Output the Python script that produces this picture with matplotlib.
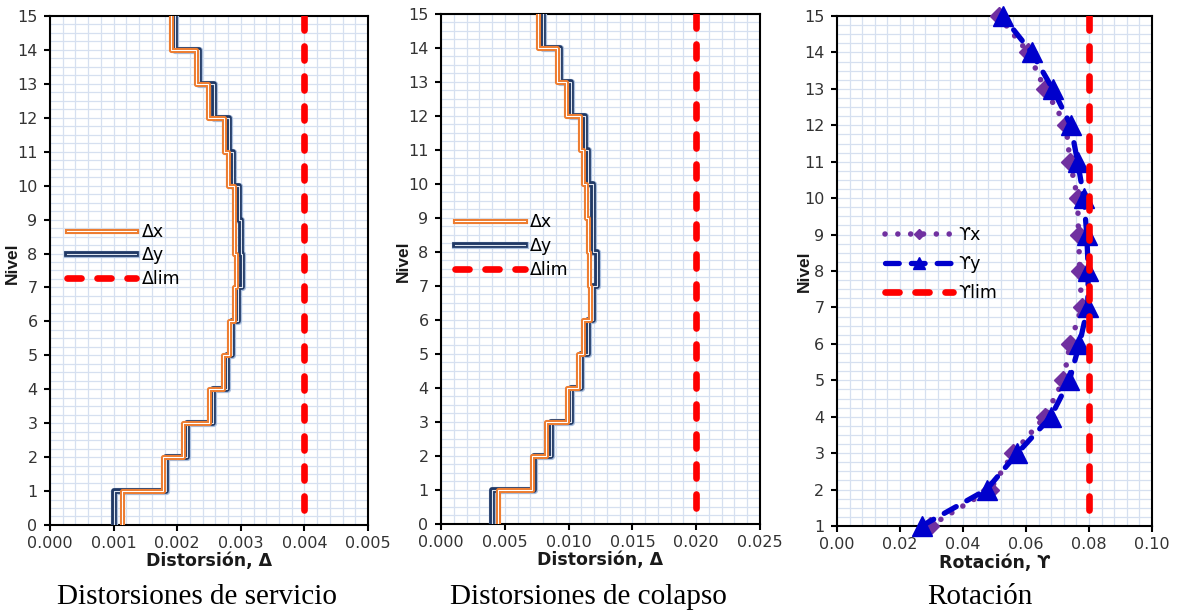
import numpy as np
import matplotlib
matplotlib.use('Agg')
import matplotlib.pyplot as plt
import matplotlib.patheffects as pe
from matplotlib.ticker import MultipleLocator, FormatStrFormatter

# entrepisos 1..15 (niveles 0..15)
niveles = np.arange(0, 16)
niveles_rot = np.arange(1, 16)

# distorsiones de servicio
serv_dx = [0.00113, 0.00178, 0.00209, 0.00250, 0.00272, 0.00281, 0.00290, 0.00292,
           0.00290, 0.00290, 0.00280, 0.00274, 0.00249, 0.00230, 0.00190]
serv_dy = [0.00100, 0.00182, 0.00216, 0.00256, 0.00278, 0.00286, 0.00296, 0.00302,
           0.00300, 0.00297, 0.00288, 0.00281, 0.00258, 0.00234, 0.00197]
lim_serv = 0.004

# distorsiones de colapso
col_dx = [0.0045, 0.0071, 0.0082, 0.0099, 0.0107, 0.0111, 0.0117, 0.0116,
          0.0115, 0.0114, 0.0111, 0.0109, 0.0098, 0.0091, 0.0076]
col_dy = [0.0040, 0.0073, 0.0086, 0.0102, 0.0110, 0.0115, 0.0119, 0.0122,
          0.0119, 0.0119, 0.0115, 0.0113, 0.0102, 0.0093, 0.0080]
lim_col = 0.020

# rotaciones por nivel
rot_x = [0.0295, 0.0486, 0.0560, 0.0660, 0.0719, 0.0740, 0.0777, 0.0771,
         0.0767, 0.0764, 0.0740, 0.0727, 0.0660, 0.0607, 0.0513]
rot_y = [0.0269, 0.0475, 0.0573, 0.0679, 0.0738, 0.0770, 0.0796, 0.0798,
         0.0793, 0.0784, 0.0764, 0.0742, 0.0685, 0.0618, 0.0526]
lim_rot = 0.08

titulos = ['Distorsiones de servicio', 'Distorsiones de colapso', 'Rotación']

SANS = ['DejaVu Sans']
TXT = '#333333'
GRID = '#d6e0f0'

fx_x = [pe.Stroke(linewidth=3.7, foreground='#ed7d31'), pe.Normal()]
fx_y = [pe.Stroke(linewidth=5.2, foreground='#a9bedd'),
        pe.Stroke(linewidth=4.1, foreground='#203864'), pe.Normal()]


def escalon(d):
    # cada entrepiso se dibuja como tramo vertical entre niveles
    x = np.repeat(d, 2)
    y = np.repeat(niveles, 2)[1:-1]
    return x, y


def base(ax, xmax, xmaj, xmin, ymin, fmt):
    ax.set_xlim(0, xmax)
    ax.set_ylim(ymin, 15)
    ax.xaxis.set_major_locator(MultipleLocator(xmaj))
    ax.xaxis.set_minor_locator(MultipleLocator(xmin))
    ax.yaxis.set_major_locator(MultipleLocator(1))
    ax.yaxis.set_minor_locator(MultipleLocator(0.25))
    ax.xaxis.set_major_formatter(FormatStrFormatter(fmt))
    ax.grid(which='both', color=GRID, lw=0.9, zorder=0)
    ax.set_axisbelow(True)
    for s in ax.spines.values():
        s.set_linewidth(1.5)
        s.set_color('black')
    ax.tick_params(which='major', direction='out', length=4, width=1.5,
                   labelsize=11.5, labelcolor=TXT)
    ax.tick_params(axis='x', pad=4)
    ax.tick_params(axis='y', pad=5)
    ax.tick_params(which='minor', length=0)
    for lb in ax.get_xticklabels() + ax.get_yticklabels():
        lb.set_family(SANS)
    ax.set_ylabel('Nivel', family='Liberation Sans', fontsize=12.5,
                  fontweight='bold', color='#1a1a1a')


def limite(ax, lim, lab):
    # linea limite, el patron de trazos arranca desde arriba
    ax.axvline(lim, ymin=1, ymax=0, color='#ff0000', lw=4.8, dashes=(2.1, 2.4),
               dash_capstyle='round', label=lab, zorder=5)


fig = plt.figure(figsize=(11.77, 6.13), dpi=100)
ax1 = fig.add_axes([0.0425, 0.1436, 0.2702, 0.8303])
ax2 = fig.add_axes([0.3747, 0.1452, 0.2710, 0.8320])
ax3 = fig.add_axes([0.7111, 0.1419, 0.2676, 0.8320])

# servicio y colapso
for ax, dx, dy, lim, xmax, xmaj, xmin, fmt, lx, ly, ylx in [
        (ax1, serv_dx, serv_dy, lim_serv, 0.005, 0.001, 0.0002, '%.3f', 0.053, 0.530, -0.094),
        (ax2, col_dx, col_dy, lim_col, 0.025, 0.005, 0.001, '%.3f', 0.044, 0.545, -0.096)]:
    base(ax, xmax, xmaj, xmin, 0, fmt)
    x, y = escalon(dy)
    ax.plot(x, y, color='#dfe6f1', lw=0.8, path_effects=fx_y, label='Δy', zorder=3,
            solid_joinstyle='round')
    x, y = escalon(dx)
    ax.plot(x, y, color='white', lw=0.75, path_effects=fx_x, label='Δx', zorder=4,
            solid_joinstyle='round')
    limite(ax, lim, 'Δlim')
    h, l = ax.get_legend_handles_labels()
    ax.legend([h[1], h[0], h[2]], [l[1], l[0], l[2]], loc='center left',
              bbox_to_anchor=(lx, ly), frameon=False, borderpad=0, borderaxespad=0,
              handlelength=4.0, handletextpad=0.3, labelspacing=0.32,
              prop={'family': SANS, 'size': 12.5})
    ax.set_xlabel('Distorsión, Δ', family=SANS, fontsize=12.5, fontweight='bold',
                  color='#1a1a1a', labelpad=1)
    ax.yaxis.set_label_coords(ylx, 0.515)

# rotaciones
base(ax3, 0.10, 0.02, 0.004, 1, '%.2f')
ax3.plot(rot_x, niveles_rot, color='#7030a0', lw=4.0, dashes=(0.01, 2.3),
         dash_capstyle='round', marker='D', ms=9, mec='#7030a0', mfc='#7030a0',
         label='ϒx', zorder=3, clip_on=False)
ax3.plot(rot_y, niveles_rot, color='#0000cc', lw=3.8, dashes=(2.6, 2.3),
         dash_capstyle='round', marker='^', ms=14, mec='#0000cc', mfc='#0000cc',
         label='ϒy', zorder=4, clip_on=False)
limite(ax3, lim_rot, 'ϒlim')
ax3.legend(loc='center left', bbox_to_anchor=(0.152, 0.514), frameon=False,
           borderpad=0, borderaxespad=0, handlelength=3.9, handletextpad=0.3,
           labelspacing=0.62, markerscale=0.6, prop={'family': SANS, 'size': 12.5})
ax3.set_xlabel('Rotación, ϒ', family=SANS, fontsize=12.5, fontweight='bold',
               color='#1a1a1a', labelpad=1)
ax3.yaxis.set_label_coords(-0.079, 0.5)

# leyendas de cada panel
for xc, t in zip([197, 588, 980], titulos):
    fig.text(xc / 1177, 9 / 613, t, ha='center', va='baseline',
             family='Liberation Serif', fontsize=21, color='black')

fig.savefig('out.png', dpi=100)
